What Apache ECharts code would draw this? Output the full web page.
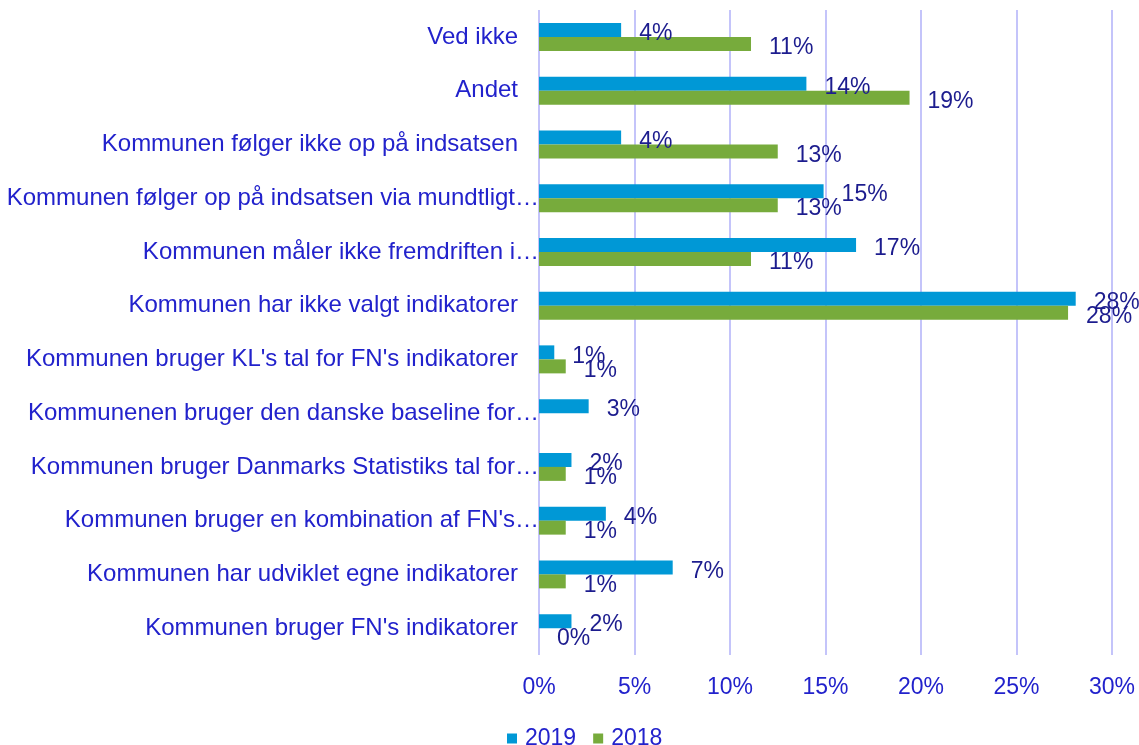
<!DOCTYPE html>
<html>
<head>
<meta charset="utf-8">
<script src="https://cdn.jsdelivr.net/npm/echarts@6/dist/echarts.min.js"></script>
<style>
  html, body { margin: 0; padding: 0; background: #fff; }
  #chart { width: 1139px; height: 745px; }
</style>
</head>
<body>
<div id="chart"></div>
<script>
// categories top to bottom
const categories = [
  'Ved ikke',
  'Andet',
  'Kommunen følger ikke op på indsatsen',
  'Kommunen følger op på indsatsen via mundtligt…',
  'Kommunen måler ikke fremdriften i…',
  'Kommunen har ikke valgt indikatorer',
  "Kommunen bruger KL's tal for FN's indikatorer",
  'Kommunenen bruger den danske baseline for…',
  'Kommunen bruger Danmarks Statistiks tal for…',
  "Kommunen bruger en kombination af FN's…",
  'Kommunen har udviklet egne indikatorer',
  "Kommunen bruger FN's indikatorer"
]
const values2019 = [4.3, 14.0, 4.3, 14.9, 16.6, 28.1, 0.8, 2.6, 1.7, 3.5, 7.0, 1.7]
const values2018 = [11.1, 19.4, 12.5, 12.5, 11.1, 27.7, 1.4, null, 1.4, 1.4, 1.4, 0]
const xTicks = { min: 0, max: 30, interval: 5 }

const labelColor = '#1c1c8e'
const axisColor = '#2222cc'
const font = 'Arial, "Liberation Sans", sans-serif'

const chart = echarts.init(document.getElementById('chart'))

const barLabel = {
  show: true,
  position: 'right',
  distance: 18,
  offset: [0, 4],
  color: labelColor,
  fontSize: 23,
  fontFamily: font,
  formatter: p => p.value == null ? '' : Math.round(p.value) + '%'
}

const option = {
  animation: false,
  textStyle: { fontFamily: font },
  grid: { left: 539, right: 27, top: 10, bottom: 90, containLabel: false },
  legend: {
    top: 722,
    left: 502,
    itemWidth: 10,
    itemHeight: 10,
    itemGap: 17,
    icon: 'rect',
    textStyle: { color: axisColor, fontSize: 23, fontFamily: font, padding: [0, 0, 0, 3] },
    data: ['2019', '2018']
  },
  xAxis: {
    type: 'value',
    min: xTicks.min,
    max: xTicks.max,
    interval: xTicks.interval,
    axisLine: { show: false },
    axisTick: { show: false },
    axisLabel: { color: axisColor, fontSize: 23, margin: 21, formatter: '{value}%' },
    splitLine: { lineStyle: { color: '#c4c4fa', width: 2 } }
  },
  yAxis: {
    type: 'category',
    inverse: true,
    data: categories,
    axisLine: { show: false },
    axisTick: { show: false },
    axisLabel: {
      color: axisColor,
      fontSize: 24,
      margin: 0,
      formatter: v => v.endsWith('…') ? v : v + '{pad|}',
      rich: { pad: { width: 21 } }
    }
  },
  series: [
    {
      name: '2019',
      type: 'bar',
      data: values2019,
      barWidth: 14,
      barGap: '0%',
      itemStyle: { color: '#0098d6' },
      label: barLabel
    },
    {
      name: '2018',
      type: 'bar',
      data: values2018,
      barWidth: 14,
      barGap: '0%',
      itemStyle: { color: '#77ab3c' },
      label: barLabel
    }
  ]
}

chart.setOption(option)
</script>
</body>
</html>
